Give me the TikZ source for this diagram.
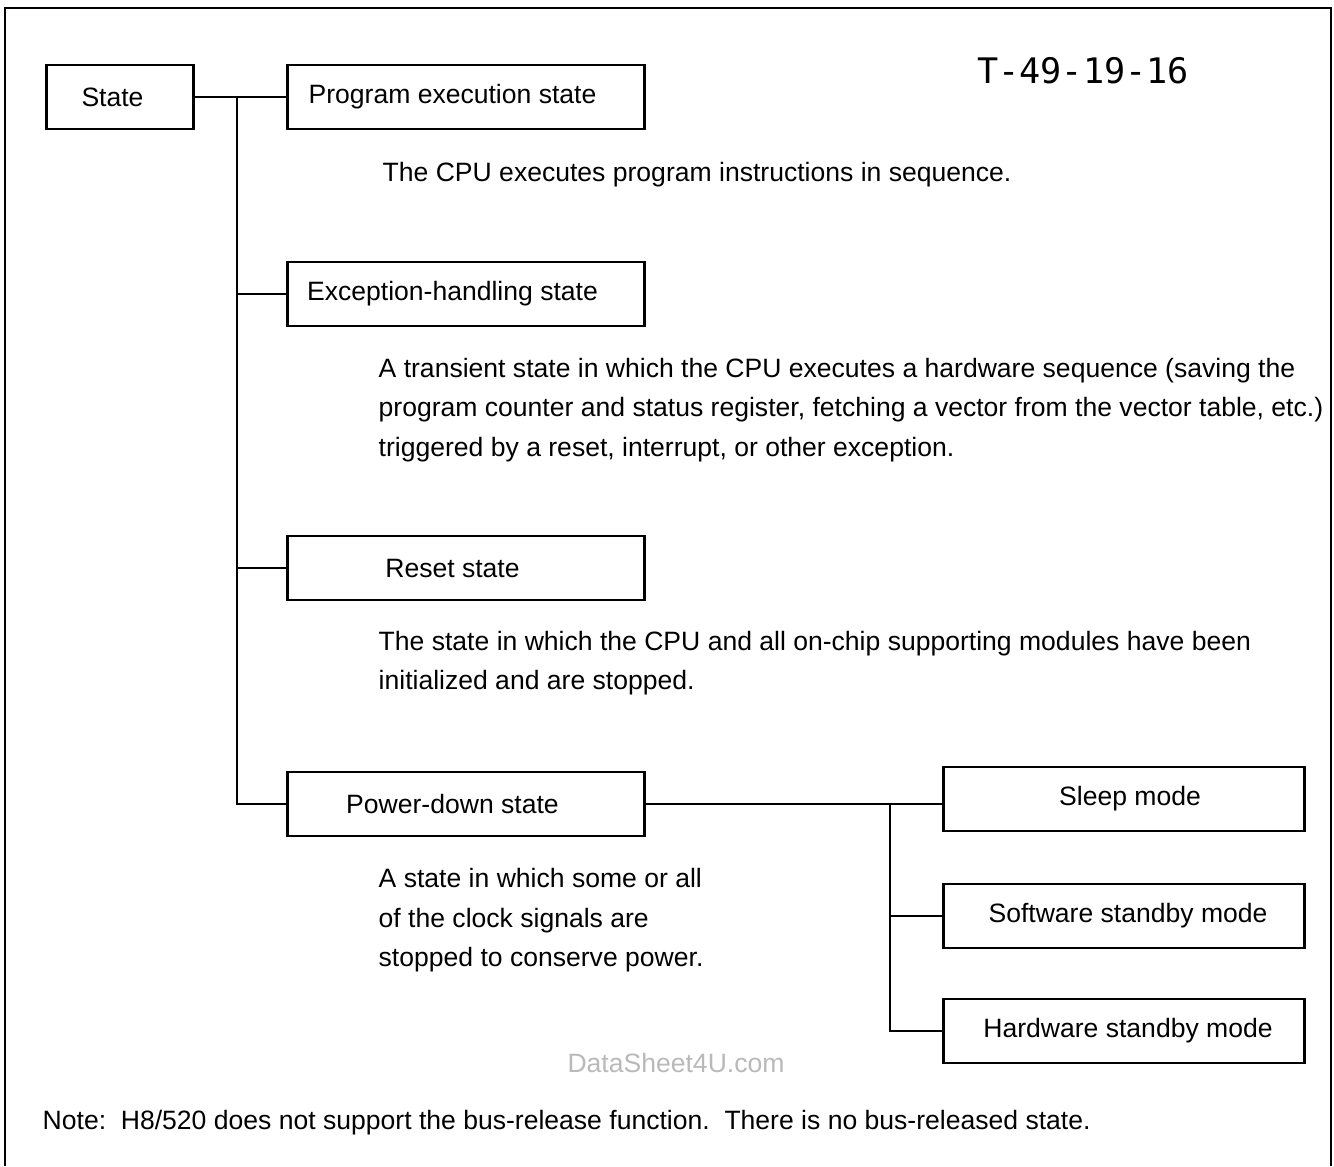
\documentclass[tikz,border=0pt]{standalone}
\usepackage{fontspec}
\setmainfont{Liberation Sans}
\newfontfamily\stampfont{DejaVu Sans Mono}
\begin{document}
\begin{tikzpicture}[x=0.01cm, y=-0.01cm,
    basebox/.style={draw, line width=0.75pt, minimum height=0.64cm,
                    inner sep=0pt, font=\fontsize{7.55}{11.1}\selectfont},
    shift text/.style={execute at begin node=\hspace*{#1}},
    statebox/.style={basebox, minimum width=3.57cm, shift text=-0.27cm},
    modebox/.style={basebox, minimum width=3.61cm},
    desc/.style={anchor=north west, inner sep=0pt, align=left, font=\fontsize{7.55}{11.1}\selectfont},
    link/.style={line width=0.65pt}]
    \useasboundingbox (0,0) rectangle (1334,1166);

    % Dessiner le cadre
    \draw[line width=0.6pt] (5,1166) -- (5,8) -- (1331,8) -- (1331,1166);

    % Dessiner les boites des etats
    \node[basebox, minimum width=1.47cm, shift text=-0.15cm] (state) at (120,97) {State};
    \node[statebox] (prog) at (466,97) {Program execution state};
    \node[statebox] (exc) at (466,294) {Exception-handling state};
    \node[statebox] (reset) at (466,568) {Reset state};
    \node[statebox] (power) at (466,804) {Power-down state};

    % Dessiner les boites des modes
    \node[modebox, shift text=0.12cm] (sleep) at (1124,799) {Sleep mode};
    \node[modebox, shift text=0.08cm] (soft) at (1124,916) {Software standby mode};
    \node[modebox, shift text=0.08cm] (hard) at (1124,1031) {Hardware standby mode};

    % Dessiner les liaisons
    \coordinate (jstate) at (237,97);
    \coordinate (jmode) at (890,804);
    \draw[link] (state.east) -- (prog.west);
    \draw[link] (jstate) |- (power.west);
    \draw[link] (jstate |- exc.west) -- (exc.west);
    \draw[link] (jstate |- reset.west) -- (reset.west);
    \draw[link] (power.east) -- (power.east -| sleep.west);
    \draw[link] (jmode) |- (hard.west);
    \draw[link] (jmode |- soft.west) -- (soft.west);

    % Dessiner les textes
    \node[font=\stampfont\fontsize{10}{12}\selectfont] (stamp) at (1083,71) {T-49-19-16};
    \node[desc] (progtext) at (382,162) {The CPU executes program instructions in sequence.};
    \node[desc] (exctext) at (378,358) {A transient state in which the CPU executes a hardware sequence (saving the\\
        program counter and status register, fetching a vector from the vector table, etc.)\\
        triggered by a reset, interrupt, or other exception.};
    \node[desc] (resettext) at (378,631) {The state in which the CPU and all on-chip supporting modules have been\\
        initialized and are stopped.};
    \node[desc] (powertext) at (378,868) {A state in which some or all\\
        of the clock signals are\\
        stopped to conserve power.};
    \node[font=\fontsize{7.55}{11.1}\selectfont, text=gray!55] (mark) at (676,1063) {DataSheet4U.com};
    \node[desc] (note) at (42,1110) {Note:\ \ H8/520 does not support the bus-release function.\ \ There is no bus-released state.};
\end{tikzpicture}
\end{document}
